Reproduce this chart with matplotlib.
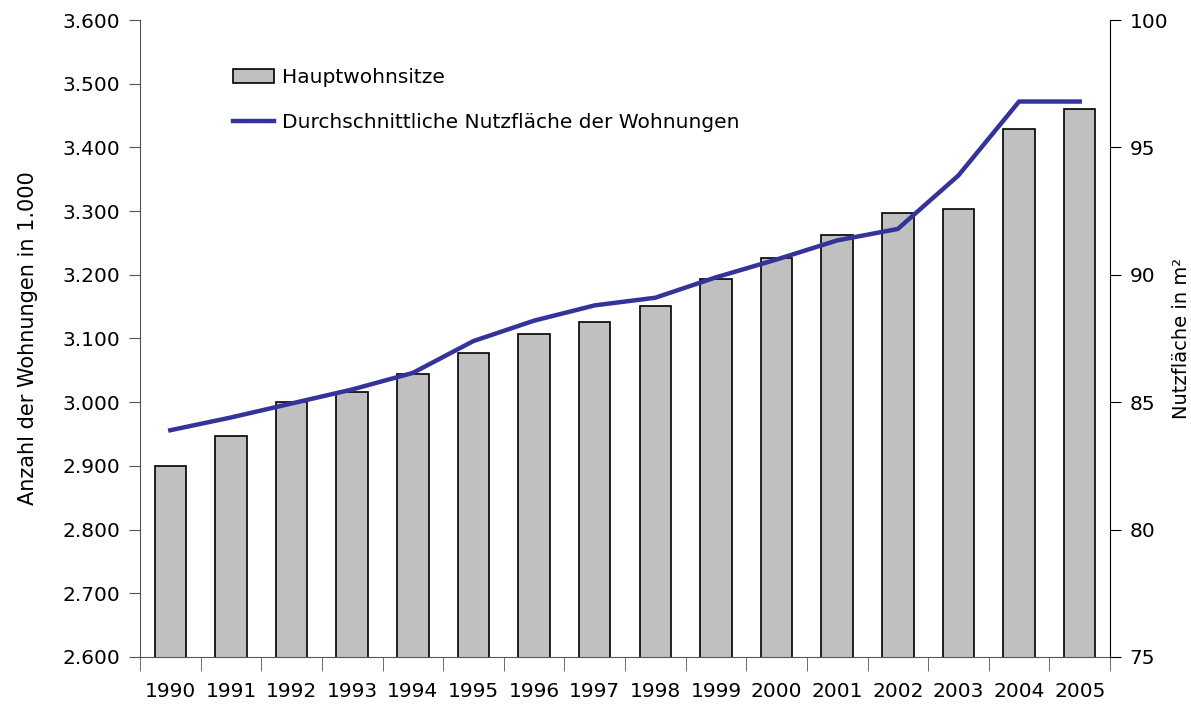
import matplotlib
matplotlib.use("Agg")
import matplotlib.pyplot as plt
from matplotlib.ticker import FuncFormatter, FixedLocator

# Daten
jahre = ['1990', '1991', '1992', '1993', '1994', '1995', '1996', '1997',
         '1998', '1999', '2000', '2001', '2002', '2003', '2004', '2005']
hauptwohnsitze = [2900, 2947, 3000, 3016, 3044, 3078, 3107, 3126,
                  3151, 3193, 3226, 3262, 3297, 3303, 3429, 3460]
nutzflaeche = [83.9, 84.4, 84.95, 85.5, 86.15, 87.4, 88.2, 88.8,
               89.1, 89.9, 90.6, 91.35, 91.8, 93.9, 96.8, 96.8]

plt.rcParams['font.family'] = ['DejaVu Sans']
fs = 14.5

fig = plt.figure(figsize=(11.91, 7.06), dpi=100)
ax = fig.add_axes([140/1191, 1-657/706, 970/1191, 637/706])
ax2 = ax.twinx()

x = list(range(len(jahre)))
bars = ax.bar(x, hauptwohnsitze, width=0.52, color='#C0C0C0',
              edgecolor='black', linewidth=1.2, label='Hauptwohnsitze')
line, = ax2.plot(x, nutzflaeche, color='#333399', linewidth=3.2,
                 label='Durchschnittliche Nutzfläche der Wohnungen')

ax.set_xlim(-0.5, 15.5)
ax.set_ylim(2600, 3600)
ax.set_yticks(range(2600, 3601, 100))
ax.yaxis.set_major_formatter(FuncFormatter(lambda v, p: f'{int(v):,}'.replace(',', '.')))
ax2.set_ylim(75, 100)
ax2.set_yticks([75, 80, 85, 90, 95, 100])

ax.set_xticks(x)
ax.set_xticklabels(jahre, fontsize=fs)
ax.tick_params(axis='x', which='major', length=0, pad=18)
ax.xaxis.set_minor_locator(FixedLocator([i - 0.5 for i in range(len(jahre) + 1)]))
ax.tick_params(axis='x', which='minor', length=10, color='#555555', direction='out')

ax.tick_params(axis='y', labelsize=fs, length=8, color='#555555', pad=6)
ax2.tick_params(axis='y', labelsize=fs, length=8, color='black', pad=6)

for a in (ax, ax2):
    a.spines['top'].set_visible(False)
ax.spines['left'].set_color('#555555')
ax.spines['bottom'].set_color('#555555')
ax.spines['right'].set_visible(False)
ax2.spines['left'].set_visible(False)
ax2.spines['bottom'].set_visible(False)
ax2.spines['right'].set_color('black')

ax.set_ylabel('Anzahl der Wohnungen in 1.000', fontsize=15, labelpad=18)
ax2.set_ylabel('Nutzfläche in m²', fontsize=14, labelpad=3)

ax2.legend([bars, line], [bars.get_label(), line.get_label()],
           loc='upper left', bbox_to_anchor=(0.086, 0.94), frameon=False,
           fontsize=fs, borderpad=0, handlelength=2.0, handletextpad=0.4,
           labelspacing=1.3)

fig.savefig('out.png', dpi=100)
